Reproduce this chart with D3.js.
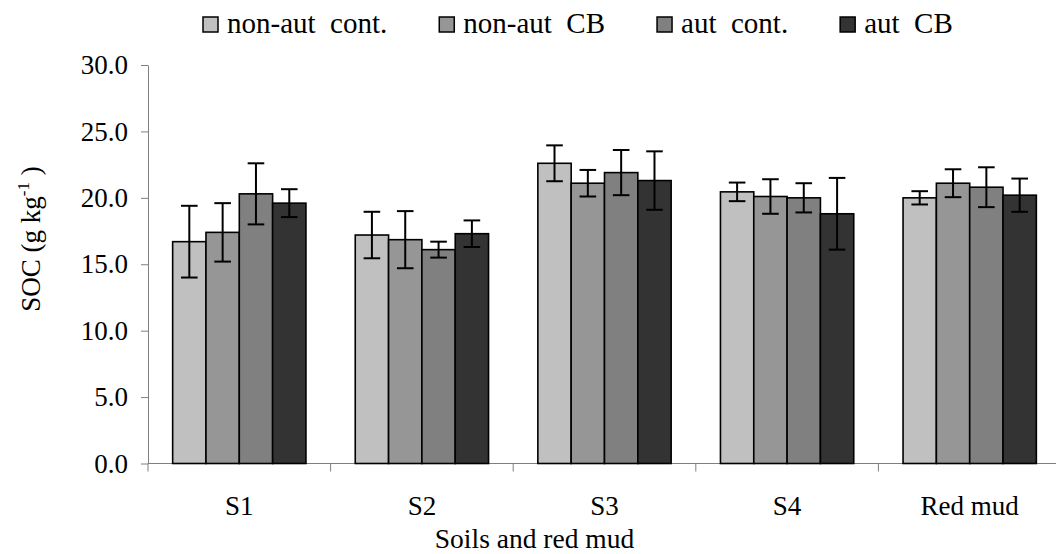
<!DOCTYPE html>
<html>
<head>
<meta charset="utf-8">
<script src="https://cdn.jsdelivr.net/npm/d3@7"></script>
<style>
  html, body { margin: 0; padding: 0; background: #fff; }
  svg { display: block; }
  svg text { font-family: "Liberation Serif", "Times New Roman", Times, serif; fill: #000; }
</style>
</head>
<body>
<svg id="chart" width="1056" height="554"></svg>
<script>
const categories = ["S1", "S2", "S3", "S4", "Red mud"];
const seriesNames = ["non-aut  cont.", "non-aut  CB", "aut  cont.", "aut  CB"];
const seriesColors = ["#c0c0c0", "#969696", "#808080", "#333333"];
const nonAutCont = [16.7, 17.2, 22.6, 20.45, 20.0];
const nonAutCB   = [17.4, 16.85, 21.1, 20.1, 21.1];
const autCont    = [20.3, 16.1, 21.9, 20.0, 20.8];
const autCB      = [19.6, 17.3, 21.3, 18.8, 20.2];
const errNonAutCont = [2.7, 1.75, 1.35, 0.7, 0.5];
const errNonAutCB   = [2.2, 2.15, 1.0, 1.3, 1.05];
const errAutCont    = [2.3, 0.6, 1.7, 1.1, 1.5];
const errAutCB      = [1.05, 1.0, 2.2, 2.7, 1.25];
const yTicks = [0, 5, 10, 15, 20, 25, 30];

(function () {
const values = [nonAutCont, nonAutCB, autCont, autCB];
const errors = [errNonAutCont, errNonAutCB, errAutCont, errAutCB];
const FONT = "'Liberation Serif', 'Times New Roman', serif";

const svg = d3.select("#chart");
const mLeft = 148, mRight = 1061, mTop = 65, mBottom = 463.5;
const axisColor = "#7f7f7f";

const x0 = d3.scaleBand().domain(categories).range([mLeft, mRight]).paddingInner(0.27).paddingOuter(0.135);
const x1 = d3.scaleBand().domain(d3.range(seriesNames.length)).range([0, x0.bandwidth()]).padding(0);
const y = d3.scaleLinear().domain([0, 30]).range([mBottom, mTop]);

// Y axis
const yAxis = svg.append("g").attr("transform", `translate(${mLeft},0)`)
  .call(d3.axisLeft(y).tickValues(yTicks).tickFormat(d3.format(".1f")).tickSize(7).tickPadding(13).tickSizeOuter(0));
yAxis.attr("font-family", null).attr("font-size", null);
yAxis.select(".domain").attr("stroke", axisColor);
yAxis.selectAll(".tick line").attr("stroke", axisColor);
yAxis.selectAll(".tick text").style("font-size", "27px").style("font-family", FONT).attr("fill", "#000");

// X axis line and boundary ticks
const step = x0.step();
const boundaries = d3.range(categories.length + 1).map(i => mLeft + i * step);
svg.append("line").attr("x1", mLeft).attr("x2", mRight).attr("y1", mBottom).attr("y2", mBottom)
  .attr("stroke", axisColor).attr("stroke-width", 1);
svg.append("g").selectAll("line").data(boundaries).join("line")
  .attr("x1", d => d).attr("x2", d => d).attr("y1", mBottom).attr("y2", mBottom + 8)
  .attr("stroke", axisColor).attr("stroke-width", 1);
svg.append("g").selectAll("text").data(categories).join("text")
  .attr("x", d => x0(d) + x0.bandwidth() / 2).attr("y", 514.5)
  .attr("text-anchor", "middle").style("font-size", "27px").style("font-family", FONT).text(d => d);

// Bars
const groups = svg.append("g").selectAll("g").data(categories).join("g")
  .attr("transform", d => `translate(${x0(d)},0)`);
groups.each(function(cat, ci) {
  const g = d3.select(this);
  values.forEach((vals, si) => {
    const v = vals[ci];
    g.append("rect")
      .attr("x", x1(si)).attr("width", x1.bandwidth())
      .attr("y", y(v)).attr("height", y(0) - y(v))
      .attr("fill", seriesColors[si]).attr("stroke", "#000").attr("stroke-width", 1.6);
  });
  values.forEach((vals, si) => {
    const v = vals[ci], e = errors[si][ci];
    const cx = x1(si) + x1.bandwidth() / 2;
    const cw = 8.3;
    const eg = g.append("g").attr("stroke", "#000").attr("stroke-width", 2);
    eg.append("line").attr("x1", cx).attr("x2", cx).attr("y1", y(v + e)).attr("y2", y(v - e));
    eg.append("line").attr("x1", cx - cw).attr("x2", cx + cw).attr("y1", y(v + e)).attr("y2", y(v + e));
    eg.append("line").attr("x1", cx - cw).attr("x2", cx + cw).attr("y1", y(v - e)).attr("y2", y(v - e));
  });
});

// Y axis title
const yt = svg.append("text").attr("transform", "translate(40,239) rotate(-90)")
  .attr("text-anchor", "middle").style("font-size", "27px").style("font-family", FONT).style("white-space", "pre");
yt.append("tspan").text("SOC (g kg");
yt.append("tspan").attr("dy", -11).style("font-size", "17px").text("-1");
yt.append("tspan").attr("dy", 11).text(" )");

// X axis title
svg.append("text").attr("x", 534.5).attr("y", 548).attr("text-anchor", "middle")
  .style("font-size", "27.5px").style("font-family", FONT).text("Soils and red mud");

// Legend (laid out sequentially)
const legend = svg.append("g");
let lx = 203;
seriesNames.forEach((name, i) => {
  const item = legend.append("g").attr("transform", `translate(${lx},0)`);
  item.append("rect").attr("x", 0).attr("y", 17).attr("width", 15).attr("height", 15)
    .attr("fill", seriesColors[i]).attr("stroke", "#000").attr("stroke-width", 1.5);
  const t = item.append("text").attr("x", 24).attr("y", 33).style("font-size", "29px")
    .style("font-family", FONT).style("white-space", "pre").text(name);
  lx += 24 + t.node().getComputedTextLength() + 52;
});
})();
</script>
</body>
</html>
